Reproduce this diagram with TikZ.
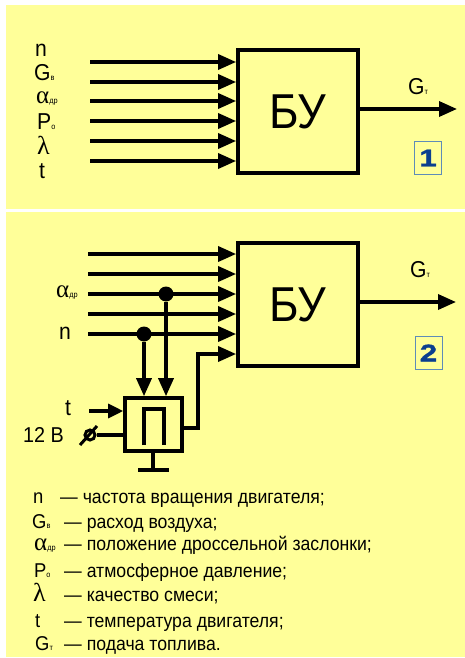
\documentclass[tikz,border=0pt]{standalone}
\usepackage{fontspec}
\setmainfont[FakeStretch=0.92]{Liberation Sans}
\newfontfamily\greekfont{Liberation Serif}
\newfontfamily\numfont[FakeStretch=1.3,FakeBold=1.5]{Liberation Sans}
\usetikzlibrary{arrows.meta}
\definecolor{panelyellow}{HTML}{FFFF99}
\definecolor{numblue}{HTML}{0B3F8F}
\definecolor{numframe}{HTML}{5F8CB8}
\newcommand{\lowtext}[1]{{\fontsize{8}{8}\selectfont #1}}
\newcommand{\galpha}{{\greekfont\fontsize{25}{25}\selectfont α}}
\newcommand{\glambda}{{\greekfont\fontsize{26}{26}\selectfont λ}}
\tikzset{
  sig/.style={line width=3.4pt, -{Triangle[length=18pt, width=15pt]}},
  wire/.style={line width=3.4pt},
  bublock/.style={draw, line width=3.8pt, minimum width=120pt, minimum height=123pt, inner sep=0pt, font=\fontsize{49}{49}\selectfont},
  lbl/.style={inner sep=0pt, anchor=west, font=\fontsize{23}{23}\selectfont},
  legsym/.style={inner sep=0pt, anchor=west, text height=14pt, text depth=0pt, font=\fontsize{20}{20}\selectfont},
  legend/.style={inner sep=0pt, anchor=west, text height=14pt, text depth=0pt, font=\fontsize{19.2}{20}\selectfont},
  numbox/.style={draw=numframe, line width=0.9pt, minimum width=27pt, minimum height=33pt, inner sep=0pt, text=numblue, font=\numfont\bfseries\fontsize{24}{24}\selectfont},
  dot/.style={circle, fill=black, minimum size=15pt, inner sep=0pt}
}
\begin{document}
\begin{tikzpicture}[x=1pt, y=-1pt]
  \useasboundingbox (0,0) rectangle (465,658);
  \fill[panelyellow] (6,5) rectangle (465,209);
  \fill[panelyellow] (6,212) rectangle (465,657);

  % upper scheme
  \node[bublock] (bua) at (298,111.5) {БУ};
  \foreach \i/\y in {1/62, 2/82, 3/101, 4/121, 5/141, 6/161} {
    \coordinate (ina\i) at (90,\y);
    \draw[sig] (ina\i) -- (ina\i -| bua.west);
  }
  \coordinate (outa) at (457,109);
  \draw[sig] (outa -| bua.east) -- (outa);
  \node[lbl] (gta) at (408,87) {G\lowtext{т}};
  \node[numbox] (numa) at (428,158) {1};
  \node[lbl] (na) at (35,50) {n};
  \node[lbl] (gva) at (34,73) {G\lowtext{в}};
  \node[lbl] (ala) at (36,98) {\galpha\lowtext{др}};
  \node[lbl] (poa) at (37,122) {P\lowtext{о}};
  \node[lbl] (lma) at (37,145) {\glambda};
  \node[lbl] (ta) at (39,171) {t};

  % lower scheme
  \node[bublock] (bub) at (298,304.5) {БУ};
  \foreach \i/\y in {1/254, 2/274, 3/294, 4/314, 5/334} {
    \coordinate (inb\i) at (88,\y);
    \draw[sig] (inb\i) -- (inb\i -| bub.west);
  }
  \coordinate (outb) at (456,302);
  \draw[sig] (outb -| bub.east) -- (outb);
  \node[lbl] (gtb) at (410,270) {G\lowtext{т}};
  \node[numbox] (numb) at (428.5,353) {2};
  \node[lbl] (alb) at (56,292) {\galpha\lowtext{др}};
  \node[lbl] (nb) at (59,333) {n};

  % converter
  \node[draw, line width=3.6pt, minimum width=57pt, minimum height=53pt, inner sep=0pt] (conv) at (153.5,424.5) {};
  \node[dot] (dota) at (166,294) {};
  \node[dot] (dotb) at (144,334) {};
  \draw[sig] (dota) -- (dota |- conv.north);
  \draw[sig] (dotb) -- (dotb |- conv.north);
  \coordinate (pia) at (144,445);
  \coordinate (pib) at (164,445);
  \coordinate (pic) at (144,409);
  \draw[wire] (pia) -- (pic) -- (pic -| pib) -- (pib);
  \coordinate (tin) at (89,411);
  \draw[line width=3.2pt, -{Triangle[length=15pt, width=14pt]}] (tin) -- (tin -| conv.west);
  \node[lbl] (tb) at (65,408) {t};
  \node[lbl, font=\fontsize{21.5}{21.5}\selectfont] (vb) at (23,435) {12 В};
  \node[circle, draw, line width=3pt, minimum size=10pt, inner sep=0pt] (term) at (90,435) {};
  \coordinate (sla) at (80,445);
  \coordinate (slb) at (97,426);
  \draw[line width=3pt] (sla) -- (slb);
  \draw[wire] (term) -- (term -| conv.west);
  \coordinate (gnd) at (153,470);
  \coordinate (gndl) at (138,470);
  \coordinate (gndr) at (169,470);
  \draw[wire] (conv.south -| gnd) -- (gnd);
  \draw[wire] (gndl) -- (gndr);
  \coordinate (conva) at (198,428);
  \coordinate (convb) at (198,354);
  \draw[sig] (conva -| conv.east) -- (conva) -- (convb) -- (convb -| bub.west);

  % legend
  \foreach \i/\x/\d/\y/\sym/\txt in {1/33/60/496/n/частота вращения двигателя;, 2/32/64/521/{G\lowtext{в}}/расход воздуха;, 3/34/64/543/{\galpha\lowtext{др}}/положение дроссельной заслонки;, 4/34/64/570/{P\lowtext{о}}/атмосферное давление;, 5/33/64/594/{\glambda}/качество смеси;, 6/35/64/620/t/температура двигателя;, 7/35/64/643/{G\lowtext{т}}/подача топлива.} {
    \node[legsym] (sym\i) at (\x,\y) {\sym};
    \node[legend] (txt\i) at (\d,\y) {— \txt};
  }
\end{tikzpicture}
\end{document}
